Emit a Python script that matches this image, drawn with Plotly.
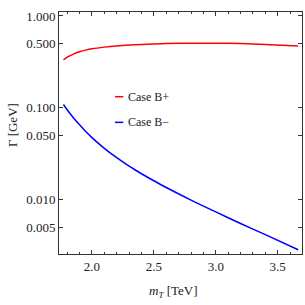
import plotly.graph_objects as go

# Data
m_vals = [1.77, 1.80, 1.85, 1.90, 1.95, 2.0, 2.1, 2.2, 2.3, 2.4, 2.5, 2.6, 2.8, 3.0, 3.2, 3.4, 3.665]
gamma_red = [0.332, 0.356, 0.384, 0.407, 0.425, 0.439, 0.458, 0.472, 0.482, 0.489, 0.495, 0.500, 0.505, 0.505, 0.500, 0.489, 0.472]
gamma_blue = [0.1089, 0.0955, 0.0782, 0.0653, 0.0553, 0.0475, 0.0363, 0.0287, 0.0232, 0.0192, 0.0161, 0.0136, 0.00993, 0.00738, 0.00552, 0.00417, 0.00286]

series_names = ["Case B+", "Case B\u2212"]
ytick_vals = [0.005, 0.01, 0.05, 0.1, 0.5, 1.0]
ytick_text = ["0.005", "0.010", "0.050", "0.100", "0.500", "1.000"]
xtick_vals = [2.0, 2.5, 3.0, 3.5]
xtick_text = ["2.0", "2.5", "3.0", "3.5"]

FONT = "Liberation Serif, Times New Roman, serif"
AX = "#333333"

fig = go.Figure()
fig.add_trace(go.Scatter(x=m_vals, y=gamma_red, mode="lines", name=series_names[0],
                         line=dict(color="#ff0000", width=1.5, shape="spline", smoothing=0.8)))
fig.add_trace(go.Scatter(x=m_vals, y=gamma_blue, mode="lines", name=series_names[1],
                         line=dict(color="#0000ff", width=1.5, shape="spline", smoothing=0.8)))

fig.update_layout(
    width=305, height=305,
    margin=dict(l=59, r=3, t=12, b=51),
    paper_bgcolor="white", plot_bgcolor="white",
    showlegend=False,
    font=dict(family=FONT, size=13, color="#222222"),
    xaxis=dict(range=[1.734, 3.696], showline=True, linecolor=AX, linewidth=1,
               mirror="ticks", ticks="inside", ticklen=4, tickcolor=AX,
               tickvals=xtick_vals, ticktext=xtick_text, showgrid=False, zeroline=False,
               minor=dict(dtick=0.1, ticks="inside", ticklen=2, tickcolor=AX, showgrid=False),
               tickfont=dict(family=FONT, size=13)),
    yaxis=dict(type="log", range=[-2.59, 0.043], showline=True, linecolor=AX, linewidth=1,
               mirror="ticks", ticks="inside", ticklen=4, tickcolor=AX,
               tickvals=ytick_vals, ticktext=ytick_text, showgrid=False, zeroline=False,
               tickfont=dict(family=FONT, size=13)),
)

# axis titles
fig.add_annotation(x=0.473, y=-0.157, xref="paper", yref="paper", showarrow=False,
                   text="<i>m</i><sub><i>T</i></sub> [TeV]", font=dict(family=FONT, size=13),
                   xanchor="center", yanchor="middle")
fig.add_annotation(x=-0.193, y=0.533, xref="paper", yref="paper", showarrow=False,
                   text="\u0393 [GeV]", textangle=-90, font=dict(family=FONT, size=13),
                   xanchor="center", yanchor="middle")

# legend
leg = [("#ff0000", 0.650, series_names[0]), ("#0000ff", 0.544, series_names[1])]
for col, yy, name in leg:
    fig.add_shape(type="line", xref="paper", yref="paper", x0=0.2305, x1=0.2646,
                  y0=yy, y1=yy, line=dict(color=col, width=1.5))
    fig.add_annotation(x=0.2757, y=yy, xref="paper", yref="paper", showarrow=False,
                       text=name, font=dict(family=FONT, size=12),
                       xanchor="left", yanchor="middle")

fig.write_html("out.html", config={"displayModeBar": False},
               post_script="document.body.style.margin='0';document.body.style.overflow='hidden';")
